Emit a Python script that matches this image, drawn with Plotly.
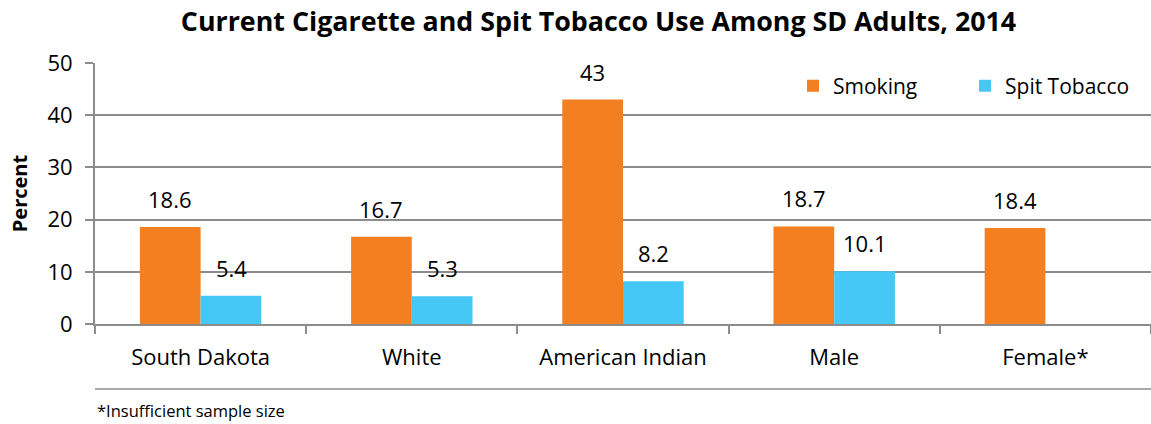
import plotly.graph_objects as go

categories = ["South Dakota", "White", "American Indian", "Male", "Female*"]
smoking = [18.6, 16.7, 43, 18.7, 18.4]
spit_tobacco = [5.4, 5.3, 8.2, 10.1, None]
y_ticks = [0, 10, 20, 30, 40, 50]

ORANGE = "#F47F20"
BLUE = "#45C8F5"
FONT = "Open Sans"
GRID = "#8C8C8C"

fig = go.Figure()
fig.add_trace(go.Bar(name="Smoking", x=categories, y=smoking, marker=dict(color=ORANGE, line=dict(width=0))))
fig.add_trace(go.Bar(name="Spit Tobacco", x=categories, y=spit_tobacco, marker=dict(color=BLUE, line=dict(width=0))))

annotations = []
bar_w = 61
for vals, shift in ((smoking, -bar_w / 2), (spit_tobacco, bar_w / 2)):
    for c, v in zip(categories, vals):
        if v is None:
            continue
        annotations.append(dict(x=c, y=v, xref="x", yref="y", text=f"{v:g}", showarrow=False,
                                xshift=shift, yshift=11, yanchor="bottom",
                                font=dict(family=FONT, size=22, color="#000")))

annotations.append(dict(x=0.0, y=-0.33, xref="paper", yref="paper", xanchor="left", yanchor="middle",
                        text="*Insufficient sample size", showarrow=False,
                        font=dict(family=FONT, size=16.5, color="#000")))

fig.update_layout(
    width=1151, height=424,
    margin=dict(l=95, r=0, t=63, b=100),
    paper_bgcolor="white", plot_bgcolor="white",
    title=dict(text="<b>Current Cigarette and Spit Tobacco Use Among SD Adults, 2014</b>",
               x=0.520, xref="container", xanchor="center", y=0.948, yanchor="middle",
               font=dict(family=FONT, size=26.8, color="#000")),
    barmode="group", bargap=0.425, bargroupgap=0,
    legend=dict(orientation="h", x=0.661, xanchor="left", y=0.99, yanchor="top",
                font=dict(family=FONT, size=21, color="#000"), itemwidth=30,
                bgcolor="rgba(0,0,0,0)", traceorder="normal", entrywidth=127, entrywidthmode="pixels"),
    annotations=annotations,
    shapes=[dict(type="line", xref="paper", yref="paper", x0=0, x1=1, y0=-0.249, y1=-0.249,
                 line=dict(color=GRID, width=1.5))],
)
fig.update_xaxes(showline=True, linecolor=GRID, linewidth=2, tickson="boundaries",
                 ticks="outside", ticklen=8, tickcolor=GRID, tickwidth=1.5, ticklabelstandoff=13,
                 tickfont=dict(family=FONT, size=22, color="#000"), showgrid=False)
fig.update_yaxes(range=[0, 50], tickvals=y_ticks, showline=True, linecolor=GRID, linewidth=2,
                 ticks="outside", ticklen=8, tickcolor=GRID, tickwidth=1.5, ticklabelstandoff=8,
                 showgrid=True, gridcolor=GRID, gridwidth=1.5, zeroline=False,
                 tickfont=dict(family=FONT, size=22, color="#000"),
                 title=dict(text="<b>Percent</b>", font=dict(family=FONT, size=20, color="#000"), standoff=14))

fig.write_html("out.html")
